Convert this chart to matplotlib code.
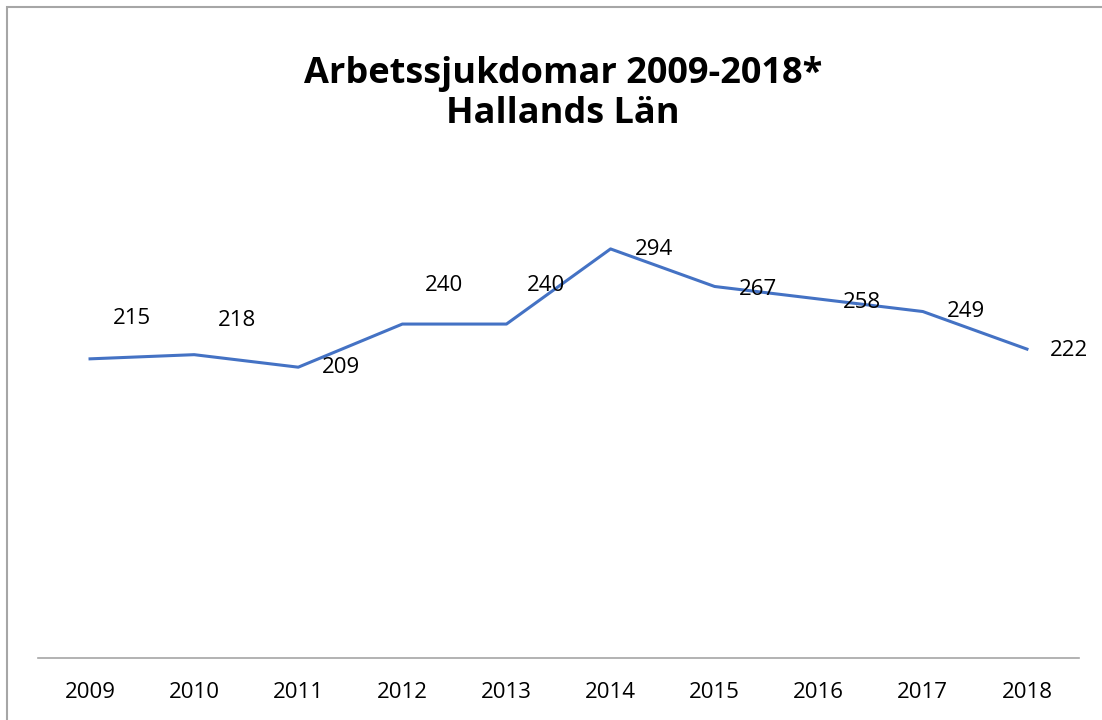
import matplotlib.pyplot as plt
from matplotlib.patches import Rectangle

plt.rcParams['font.family'] = ['Open Sans', 'DejaVu Sans']

years = ['2009', '2010', '2011', '2012', '2013', '2014', '2015', '2016', '2017', '2018']
cases = [215, 218, 209, 240, 240, 294, 267, 258, 249, 222]

# label offsets in pixels (dx, dy) relative to each point
label_offsets = [(42, 40), (43, 34), (43, 0), (42, 39), (40, 39),
                 (43, -1), (43, -3), (43, -3), (43, 0), (42, -1)]

fig = plt.figure(figsize=(11.02, 7.2), dpi=100)
ax = fig.add_axes([38 / 1102, 1 - 658 / 720, (1079 - 38) / 1102, (658 - 171) / 720])

x = range(len(years))
ax.plot(x, cases, color='#4472C4', lw=2.2, solid_joinstyle='round')

for i, v in enumerate(cases):
    dx, dy = label_offsets[i]
    ax.annotate(str(v), (i, v), xytext=(dx, dy), textcoords='offset pixels',
                ha='center', va='center', fontsize=16, color='black')

ax.set_xlim(-0.5, len(years) - 0.5)
ax.set_ylim(0, 350)
ax.set_xticks(list(x))
ax.set_xticklabels(years, fontsize=16)
ax.tick_params(axis='x', length=0, pad=17)
ax.set_yticks([])
for s in ['top', 'right', 'left']:
    ax.spines[s].set_visible(False)
ax.spines['bottom'].set_color('#A6A6A6')
ax.spines['bottom'].set_linewidth(1.2)

fig.text(0.511, 1 - 94 / 720, 'Arbetssjukdomar 2009-2018*\nHallands Län',
         ha='center', va='center', fontsize=26, fontweight='bold', linespacing=1.15)

fig.patches.append(Rectangle((7 / 1102, -0.1), 1.2, 1 - 7 / 720 + 0.1,
                             transform=fig.transFigure, fill=False,
                             edgecolor='#A6A6A6', lw=1.5))

fig.savefig('out.png', dpi=100)
